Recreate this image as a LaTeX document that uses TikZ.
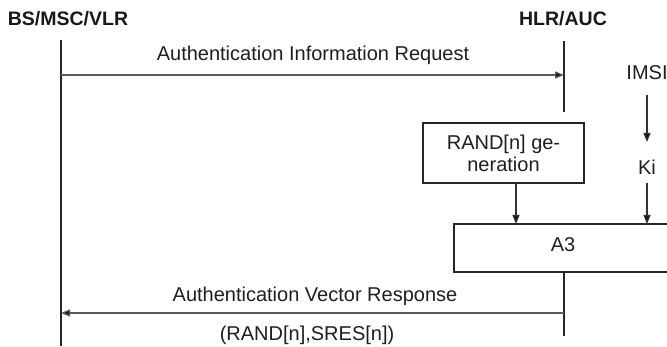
\documentclass[tikz,border=0pt]{standalone}
\usepackage{fontspec}
\setmainfont{Liberation Sans}
\usetikzlibrary{arrows.meta}
\tikzset{
  lbl/.style={font=\fontsize{20}{23}\selectfont, inner sep=0pt, text=black!88},
  hdr/.style={font=\fontsize{19.5}{22}\selectfont\bfseries, inner sep=0pt, text=black!90},
  life/.style={line width=2.4pt, draw=black!85},
  msg/.style={line width=1.2pt, draw=black!65, -{Triangle[length=9pt,width=7pt,fill=black!90]}},
  flow/.style={line width=1.1pt, draw=black!80, -{Triangle[length=9pt,width=7pt,fill=black!90]}},
  boxst/.style={draw=black!85, line width=2.2pt, inner sep=0pt, font=\fontsize{20}{22}\selectfont, text=black!88, align=center}
}
\begin{document}
\begin{tikzpicture}[x=1pt,y=-1pt]
\clip (0,0) rectangle (667,347);
\fill[white] (0,0) rectangle (667,347);
% headers
\node[hdr, anchor=base] (hbs) at (68,26) {BS/MSC/VLR};
\node[hdr, anchor=base] (hhlr) at (563,26) {HLR/AUC};
% lifeline coordinates
\coordinate (bstop) at (61,40);
\coordinate (bsbot) at (61,346);
\coordinate (hlrtop) at (564,41);
\coordinate (hlrbot) at (564,112);
\coordinate (reqs) at (61,75);
\coordinate (reqe) at (564,75);
\coordinate (ress) at (564,313);
\coordinate (rese) at (61,313);
\coordinate (hlr2bot) at (564,336);
% lifelines
\draw[life] (bstop) -- (bsbot);
\draw[life] (hlrtop) -- (hlrbot);
% request
\draw[msg] (reqs) -- (reqe);
\node[lbl, anchor=base] (lreq) at (313,60.5) {Authentication Information Request};
% boxes
\node[boxst, minimum width=161pt, minimum height=60pt] (rand) at (503.5,153) {RAND[n] ge-\\neration};
\node[boxst, minimum width=218pt, minimum height=48pt] (a3) at (563,248) {};
\node[lbl, anchor=base] (a3t) at (563,252) {A3};
% IMSI / Ki
\node[lbl, anchor=base] (imsi) at (647,80) {IMSI};
\node[lbl, anchor=base] (ki) at (647,175) {Ki};
\coordinate (imsibot) at (647,95);
\coordinate (kitop) at (647,142);
\coordinate (kibot) at (647,183);
\coordinate (a3ki) at (647,224);
\coordinate (randbot) at (516,183);
\coordinate (a3rand) at (516,224);
\draw[flow] (imsibot) -- (kitop);
\draw[flow] (kibot) -- (a3ki);
\draw[flow] (randbot) -- (a3rand);
% lower HLR line
\draw[life] (a3.south -| hlrtop) -- (hlr2bot);
% response
\draw[msg] (ress) -- (rese);
\node[lbl, anchor=base] (lres1) at (315,302) {Authentication Vector Response};
\node[lbl, anchor=base] (lres2) at (307,341) {(RAND[n],SRES[n])};
\end{tikzpicture}
\end{document}
